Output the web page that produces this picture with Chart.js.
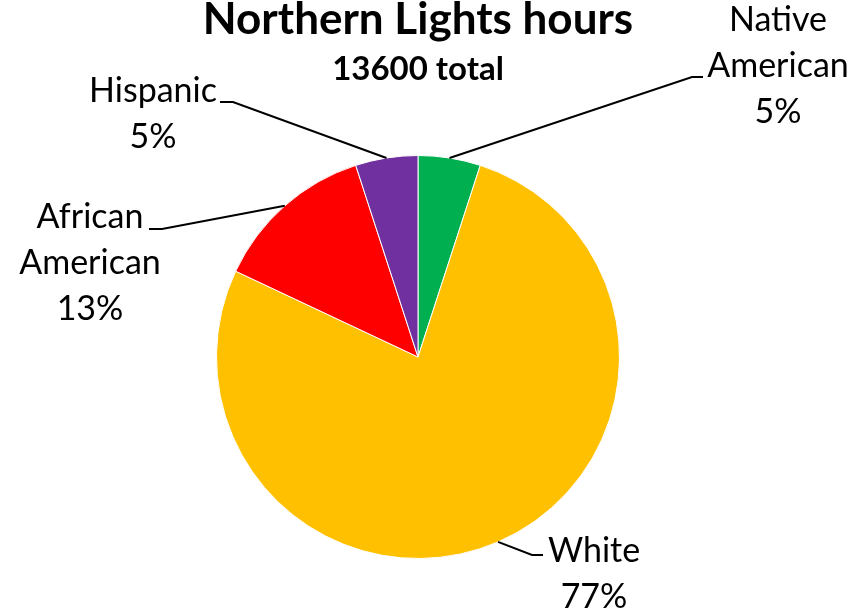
<!DOCTYPE html>
<html>
<head>
<meta charset="utf-8">
<script src="https://cdn.jsdelivr.net/npm/chart.js@4"></script>
<style>
    html, body { margin: 0; padding: 0; background: #fff; }
    #wrap { width: 865px; height: 609px; }
</style>
</head>
<body>
<div id="wrap"><canvas id="pieChart" width="865" height="609"></canvas></div>
<script>
const categories = ['Native American', 'White', 'African American', 'Hispanic'];
const hours = [680, 10472, 1768, 680];
const sliceColors = ['#00B050', '#FFC000', '#FF0000', '#7030A0'];
const chartTitle = 'Northern Lights hours';
const chartSubtitle = '13600 total';

// where each outside label sits: text lines, text centre, baselines, leader elbow and tail
const labelPlacement = [
    { lines: ['Native', 'American'], cx: 778, baseline: 31, elbow: [692, 77], tail: [703, 77] },
    { lines: ['White'], cx: 594, baseline: 562, elbow: [532, 555], tail: [543, 555] },
    { lines: ['African', 'American'], cx: 90, baseline: 228, elbow: [162, 229], tail: [149, 229] },
    { lines: ['Hispanic'], cx: 153, baseline: 102, elbow: [233, 102], tail: [220, 102] }
];

const FONT = 'Lato, "Open Sans", sans-serif';
const LINE_H = 46;

const outsideLabels = {
    id: 'outsideLabels',
    afterDraw(chart) {
        const ctx = chart.ctx;
        const meta = chart.getDatasetMeta(0);
        const data = chart.data.datasets[0].data;
        const total = data.reduce((a, b) => a + b, 0);

        ctx.save();
        ctx.fillStyle = '#000';
        ctx.textAlign = 'center';
        ctx.textBaseline = 'alphabetic';
        ctx.font = `bold 44px ${FONT}`;
        ctx.fillText(chartTitle, 418, 34);
        ctx.font = `bold 33px ${FONT}`;
        ctx.fillText(chartSubtitle, 418, 80);

        meta.data.forEach((arc, i) => {
            const p = labelPlacement[i];
            const { x, y, startAngle, endAngle, outerRadius } = arc.getProps(['x', 'y', 'startAngle', 'endAngle', 'outerRadius'], true);
            const mid = (startAngle + endAngle) / 2;
            const sx = x + Math.cos(mid) * outerRadius;
            const sy = y + Math.sin(mid) * outerRadius;

            ctx.strokeStyle = '#000';
            ctx.lineWidth = 2;
            ctx.beginPath();
            ctx.moveTo(sx, sy);
            ctx.lineTo(p.elbow[0], p.elbow[1]);
            ctx.lineTo(p.tail[0], p.tail[1]);
            ctx.stroke();

            const pct = Math.round(data[i] / total * 100) + '%';
            const lines = p.lines.concat([pct]);
            ctx.font = `34px ${FONT}`;
            lines.forEach((t, k) => ctx.fillText(t, p.cx, p.baseline + k * LINE_H));
        });
        ctx.restore();
    }
};

new Chart(document.getElementById('pieChart'), {
    type: 'pie',
    data: {
        labels: categories,
        datasets: [{
            data: hours,
            backgroundColor: sliceColors,
            borderColor: '#ffffff',
            borderWidth: 1
        }]
    },
    options: {
        responsive: false,
        animation: false,
        layout: { padding: { top: 155, bottom: 50, left: 216, right: 245 } },
        plugins: {
            legend: { display: false },
            tooltip: { enabled: false },
            title: { display: false }
        }
    },
    plugins: [outsideLabels]
});
</script>
</body>
</html>
